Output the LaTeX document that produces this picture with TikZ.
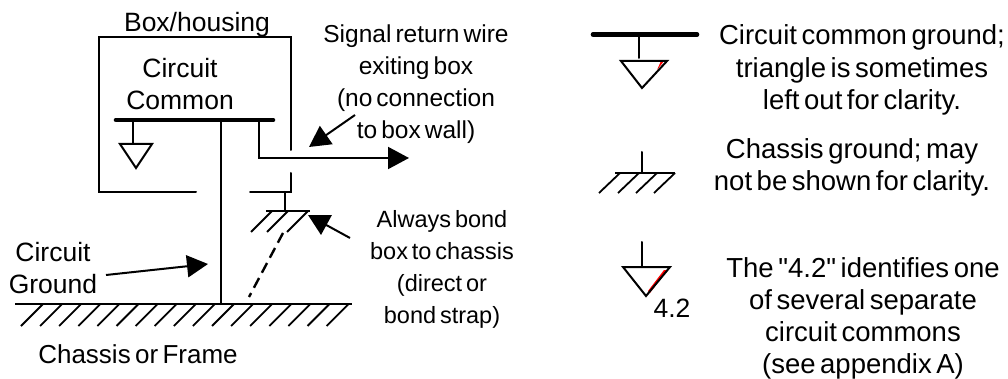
\documentclass[tikz,border=0pt]{standalone}
\usepackage{fontspec}
\setmainfont{Liberation Sans}[WordSpace=0.6]
\newfontfamily\quotefont{Liberation Sans}[Ligatures=ResetAll]
\usetikzlibrary{arrows.meta}
\tikzset{
  lbl/.style={align=center,anchor=base,inner sep=0pt,font=\fontsize{26.5}{32}\selectfont},
  notelbl/.style={lbl,font=\fontsize{24.5}{32}\selectfont},
  bondlbl/.style={lbl,font=\fontsize{23.5}{32}\selectfont},
  framelbl/.style={lbl,font=\fontsize{26}{32}\selectfont},
  legendlbl/.style={lbl,font=\fontsize{27.5}{32.5}\selectfont},
  wire/.style={line width=2pt,line cap=round,line join=miter},
  bus/.style={line width=4.6pt,line cap=round},
  hatch/.style={line width=1.8pt},
  pointer/.style={line width=2pt,-{Triangle[length=21pt,width=22pt]}}
}
\begin{document}
\begin{tikzpicture}[x=1pt,y=-1pt]
\useasboundingbox (0,0) rectangle (1008,379);
% labels
\node[lbl] (boxlabel) at (197,32) {Box/housing};
\node[lbl] (commonlabel) at (180,110) {Circuit\\Common};
\node[notelbl] (returnlabel) at (416,139) {Signal return wire\\exiting box\\(no connection\\to box wall)};
\node[bondlbl] (bondlabel) at (442,323) {Always bond\\box to chassis\\(direct or\\bond strap)};
\node[lbl] (groundlabel) at (53,293) {Circuit\\Ground};
\node[framelbl] (framelabel) at (138,363) {Chassis or Frame};
\node[legendlbl] (legendcommon) at (862,110) {Circuit common ground;\\triangle is sometimes\\left out for clarity.};
\node[legendlbl] (legendchassis) at (852,191) {Chassis ground; may\\not be shown for clarity.};
\node[legendlbl,font=\fontsize{27.5}{32}\selectfont] (legendnumber) at (863,373) {The {\quotefont"}4.2{\quotefont"} identifies one\\of several separate\\circuit commons\\(see appendix A)};
\node[lbl] (numberlabel) at (672,317) {4.2};
% box with its two gaps
\draw[wire] (196,192) -- (99,192) -- (99,37.5) -- (291,37.5) -- (291,150);
\draw[wire] (291,173) -- (291,192) -- (250,192);
% circuit common and wires
\coordinate (busleft) at (116,120);
\coordinate (busright) at (273,120);
\coordinate (framefoot) at (221,304);
\coordinate (exit) at (409,158);
\draw[bus] (busleft) -- (busright);
\draw[wire] (221,120) -- (framefoot);
\draw[wire] (133,120) -- (133,144);
\draw[wire] (120,144) -- (152,144) -- (136,168) -- cycle;
\draw[pointer] (259,120) -- (259,158) -- (exit);
% bond to chassis
\draw[wire] (285,192) -- (285,211);
\draw[hatch] (266,211) -- (310,211);
\foreach \x in {272,288,308}
  \draw[hatch] (\x,211) -- ++(-21,21);
\draw[wire,dash pattern=on 11pt off 6pt,line cap=butt,line width=2.4pt] (283,233) -- (249,297);
% frame
\draw[hatch] (15,304) -- (352,304);
\foreach \i in {0,...,16}
  \draw[hatch] (21+19.1*\i,326) -- ++(22,-22);
% pointers
\coordinate (returnfrom) at (355,115);
\coordinate (returnto) at (309,147);
\coordinate (bondfrom) at (350,238);
\coordinate (bondto) at (308,215);
\coordinate (groundfrom) at (106,275);
\coordinate (groundto) at (208,264);
\draw[pointer] (returnfrom) -- (returnto);
\draw[pointer] (bondfrom) -- (bondto);
\draw[pointer] (groundfrom) -- (groundto);
% legend symbols
\draw[bus] (593,34.5) -- (697,34.5);
\draw[wire] (639,34.5) -- (639,58);
\fill[red] (661,61) -- (664,61) -- (657,70) -- cycle;
\draw[wire] (621,61) -- (667,61) -- (642,88) -- cycle;
\draw[wire] (642,152) -- (642,173);
\draw[hatch] (615,173) -- (675,173);
\foreach \x in {599,618,636,654}
  \draw[hatch] (\x,193) -- ++(21,-20);
\draw[wire] (642,242) -- (642,267);
\fill[red] (664,270) -- (667,270) -- (650,293) -- (648,291) -- cycle;
\draw[wire] (623,267) -- (670,267) -- (646,296) -- cycle;
\end{tikzpicture}
\end{document}
